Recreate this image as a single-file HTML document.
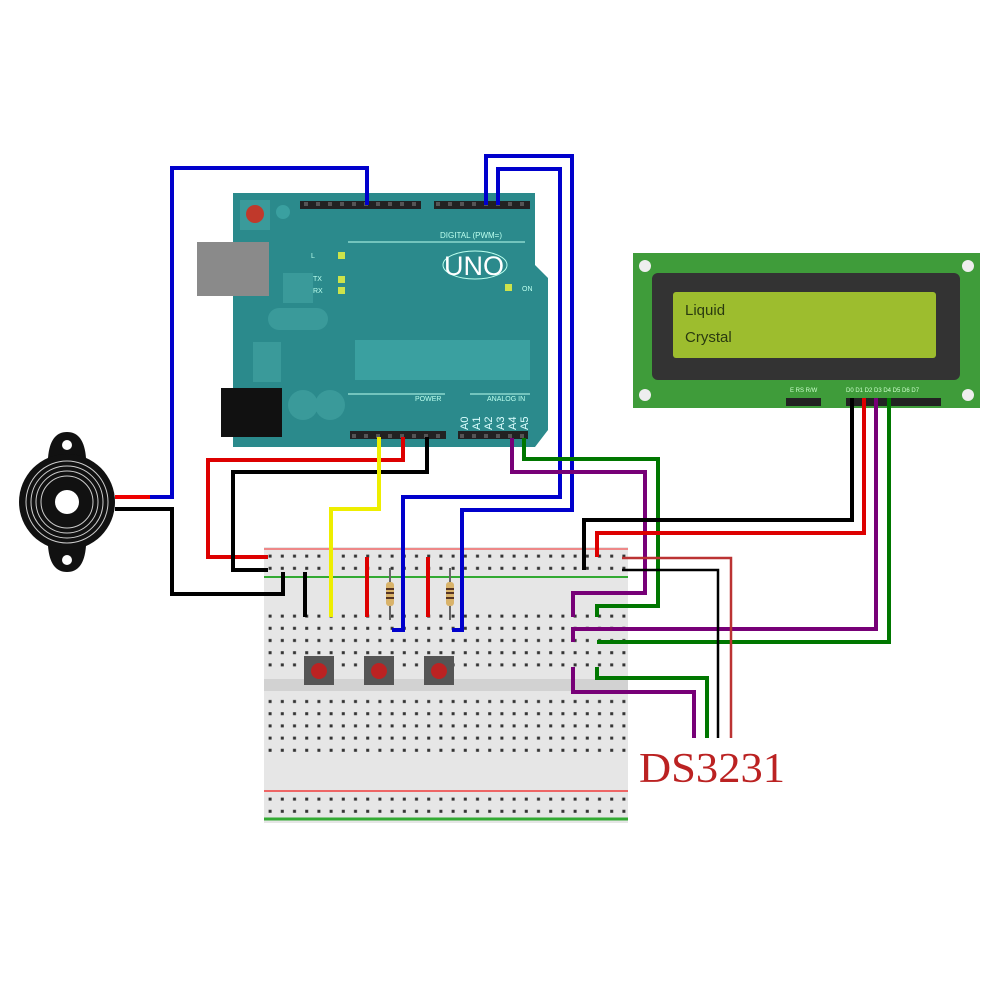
<!DOCTYPE html>
<html><head><meta charset="utf-8"><style>
html,body{margin:0;padding:0;background:#fff;width:1000px;height:1000px;overflow:hidden}
svg{display:block}
</style></head><body>
<svg width="1000" height="1000" viewBox="0 0 1000 1000" xmlns="http://www.w3.org/2000/svg" font-family="Liberation Sans, sans-serif">
<defs>
<pattern id="holes" x="264" y="0" width="12.2" height="12.2" patternUnits="userSpaceOnUse">
<rect x="4.6" y="4.6" width="3" height="3" fill="#333"/>
</pattern>
<pattern id="pins" x="300" y="0" width="12" height="8" patternUnits="userSpaceOnUse">
<rect width="12" height="8" fill="#222"/><rect x="4" y="2" width="4" height="4" fill="#555"/>
</pattern>
</defs>

<!-- Breadboard -->
<rect x="264" y="547" width="364" height="276" fill="#e6e6e6"/>
<line x1="264" y1="549" x2="628" y2="549" stroke="#e88" stroke-width="2"/>
<line x1="264" y1="577" x2="628" y2="577" stroke="#3a3" stroke-width="2"/>
<line x1="264" y1="791" x2="628" y2="791" stroke="#e66" stroke-width="2"/>
<line x1="264" y1="819" x2="628" y2="819" stroke="#3a3" stroke-width="3"/>
<rect x="264" y="679" width="364" height="12" fill="#d2d2d2"/>
<g>
<rect x="266" y="551" width="360" height="24" fill="url(#holes)" transform="translate(0,1)"/>
<rect x="266" y="610" width="360" height="62" fill="url(#holes)"/>
<rect x="266" y="695" width="360" height="62" fill="url(#holes)"/>
<rect x="266" y="793" width="360" height="24" fill="url(#holes)"/>
</g>

<!-- Arduino -->
<path d="M233 193 H535 L535 265 L548 278 V430 L535 447 H233 Z" fill="#2b8a8c"/>
<rect x="197" y="242" width="72" height="54" fill="#8a8a8a"/>
<rect x="221" y="388" width="61" height="49" fill="#111"/>
<rect x="240" y="200" width="30" height="30" fill="#3a9a9a"/>
<circle cx="255" cy="214" r="9" fill="#c0392b"/>
<circle cx="283" cy="212" r="7" fill="#3aa0a0"/>
<rect x="253" y="342" width="28" height="40" fill="#3a9a9a"/>
<rect x="268" y="308" width="60" height="22" rx="11" fill="#3a9a9a"/>
<rect x="283" y="273" width="30" height="30" fill="#3a9a9a"/>
<circle cx="303" cy="405" r="15" fill="#3a9a9a"/>
<circle cx="330" cy="405" r="15" fill="#3a9a9a"/>
<rect x="355" y="340" width="175" height="40" fill="#3aa0a0"/>
<rect x="300" y="201" width="121" height="8" fill="url(#pins)"/>
<rect x="434" y="201" width="96" height="8" fill="url(#pins)"/>
<rect x="350" y="431" width="96" height="8" fill="url(#pins)"/>
<rect x="458" y="431" width="70" height="8" fill="url(#pins)"/>
<line x1="348" y1="394" x2="445" y2="394" stroke="#bfe" stroke-width="1"/>
<line x1="470" y1="394" x2="530" y2="394" stroke="#bfe" stroke-width="1"/>
<line x1="348" y1="242" x2="525" y2="242" stroke="#bfe" stroke-width="1"/>
<text x="440" y="238" font-size="8" fill="#bfe">DIGITAL (PWM=)</text>
<text x="415" y="401" font-size="7" fill="#bfe">POWER</text>
<text x="487" y="401" font-size="7" fill="#bfe">ANALOG IN</text>
<g font-size="11" fill="#dff" transform="rotate(-90)">
<text x="-430" y="468">A0</text><text x="-430" y="480">A1</text><text x="-430" y="492">A2</text><text x="-430" y="504">A3</text><text x="-430" y="516">A4</text><text x="-430" y="528">A5</text>
</g>
<ellipse cx="475" cy="265" rx="32" ry="14" fill="none" stroke="#bfe" stroke-width="1"/>
<text x="444" y="275" font-size="27" fill="#fff">UNO</text>
<text x="311" y="258" font-size="7" fill="#bfe">L</text>
<text x="313" y="281" font-size="7" fill="#bfe">TX</text>
<text x="313" y="293" font-size="7" fill="#bfe">RX</text>
<rect x="338" y="252" width="7" height="7" fill="#cde34a"/>
<rect x="338" y="276" width="7" height="7" fill="#cde34a"/>
<rect x="338" y="287" width="7" height="7" fill="#cde34a"/>
<rect x="505" y="284" width="7" height="7" fill="#cde34a"/>
<text x="522" y="291" font-size="7" fill="#bfe">ON</text>

<!-- LCD -->
<rect x="633" y="253" width="347" height="155" fill="#3f9c3a"/>
<rect x="652" y="273" width="308" height="107" rx="6" fill="#333"/>
<rect x="673" y="292" width="263" height="66" rx="3" fill="#9dbd2e"/>
<text x="685" y="315" font-size="15" fill="#2a3a10">Liquid</text>
<text x="685" y="342" font-size="15" fill="#2a3a10">Crystal</text>
<g fill="#eee"><circle cx="645" cy="266" r="6"/><circle cx="968" cy="266" r="6"/><circle cx="645" cy="395" r="6"/><circle cx="968" cy="395" r="6"/></g>
<rect x="786" y="398" width="35" height="8" fill="#222"/>
<rect x="846" y="398" width="95" height="8" fill="#222"/>
<text x="790" y="392" font-size="6" fill="#cfc">E RS R/W</text>
<text x="846" y="392" font-size="6" fill="#cfc">D0 D1 D2 D3 D4 D5 D6 D7</text>

<!-- Buzzer -->
<g>
<path d="M48 458 Q50 432 67 432 Q84 432 86 458 L86 546 Q84 572 67 572 Q50 572 48 546 Z" fill="#111"/>
<circle cx="67" cy="502" r="48" fill="#111"/>
<g fill="none" stroke="#ccc" stroke-width="1"><circle cx="67" cy="502" r="41"/><circle cx="67" cy="502" r="36"/><circle cx="67" cy="502" r="31"/><circle cx="67" cy="502" r="26"/></g>
<circle cx="67" cy="502" r="12" fill="#fff"/>
<circle cx="67" cy="445" r="5" fill="#fff"/><circle cx="67" cy="560" r="5" fill="#fff"/>
</g>

<!-- Wires -->
<g fill="none" stroke-width="4" stroke-linejoin="miter">
<polyline points="115,497 150,497" stroke="#e00"/>
<polyline points="150,497 172,497 172,168 367,168 367,205" stroke="#00c"/>
<polyline points="486,205 486,156 572,156 572,510 462,510 462,630 452,630" stroke="#00c"/>
<polyline points="498,205 498,169 560,169 560,497 403,497 403,630 392,630" stroke="#00c"/>
<polyline points="115,509 172,509 172,594 283,594 283,572" stroke="#000"/>
<polyline points="403,437 403,460 208,460 208,557 268,557" stroke="#d00"/>
<polyline points="427,437 427,472 233,472 233,570 268,570" stroke="#000"/>
<polyline points="379,437 379,509 331,509 331,617" stroke="#ee0"/>
<polyline points="512,438 512,472 645,472 645,593 573,593 573,617" stroke="#707"/>
<polyline points="524,438 524,459 658,459 658,606 597,606 597,617" stroke="#070"/>
<polyline points="852,398 852,520 584,520 584,570" stroke="#000"/>
<polyline points="864,398 864,533 597,533 597,557" stroke="#d00"/>
<polyline points="876,398 876,629 573,629 573,642" stroke="#707"/>
<polyline points="889,398 889,642 597,642" stroke="#070"/>
<polyline points="573,667 573,692 694,692 694,738" stroke="#707"/>
<polyline points="597,667 597,678 707,678 707,738" stroke="#070"/>
<polyline points="305,572 305,617" stroke="#000"/>
<polyline points="367,557 367,617" stroke="#d00"/>
<polyline points="428,557 428,617" stroke="#d00"/>
</g>
<polyline points="622,570 718,570 718,738" fill="none" stroke="#000" stroke-width="2.5"/>
<polyline points="622,558 731,558 731,738" fill="none" stroke="#b33" stroke-width="2.5"/>

<!-- resistors -->
<g>
<line x1="390" y1="568" x2="390" y2="620" stroke="#666" stroke-width="2"/>
<line x1="450" y1="568" x2="450" y2="620" stroke="#666" stroke-width="2"/>
<rect x="386" y="582" width="8" height="24" rx="3" fill="#d9b36a"/>
<rect x="446" y="582" width="8" height="24" rx="3" fill="#d9b36a"/>
<g fill="#532"><rect x="386" y="588" width="8" height="2"/><rect x="386" y="592" width="8" height="2"/><rect x="386" y="597" width="8" height="2"/>
<rect x="446" y="588" width="8" height="2"/><rect x="446" y="592" width="8" height="2"/><rect x="446" y="597" width="8" height="2"/></g>
</g>

<!-- buttons -->
<g>
<rect x="304" y="656" width="30" height="29" fill="#555"/><circle cx="319" cy="671" r="8" fill="#b22"/>
<rect x="364" y="656" width="30" height="29" fill="#555"/><circle cx="379" cy="671" r="8" fill="#b22"/>
<rect x="424" y="656" width="30" height="29" fill="#555"/><circle cx="439" cy="671" r="8" fill="#b22"/>
</g>

<text x="639" y="782" font-family="Liberation Serif, serif" font-size="42" fill="#b22" textLength="146" lengthAdjust="spacingAndGlyphs">DS3231</text>
</svg>
</body></html>
